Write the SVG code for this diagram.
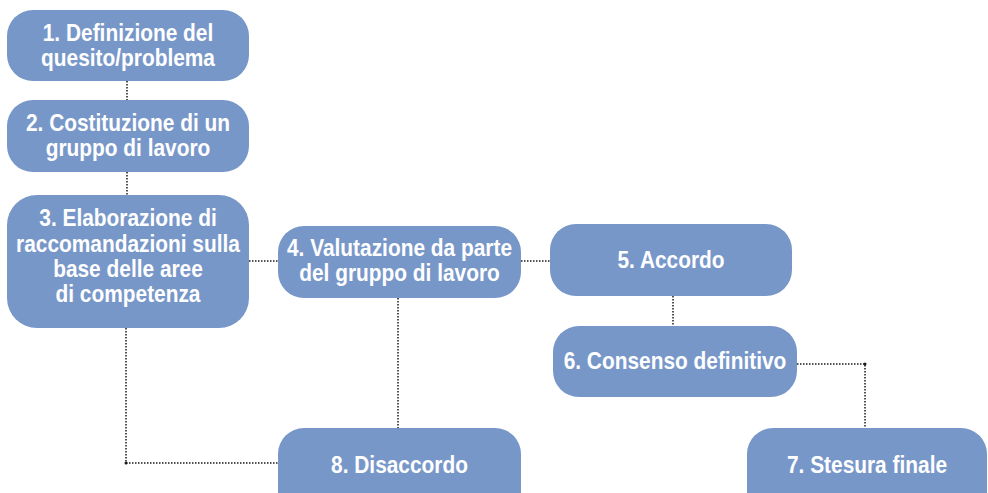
<svg xmlns="http://www.w3.org/2000/svg" width="988" height="493" viewBox="0 0 988 493">
<style>
.box{fill:#7897c9}
.t{font-family:"Liberation Sans",Arial,sans-serif;font-weight:bold;font-size:24px;fill:#ffffff;text-anchor:middle}
.c{fill:none;stroke:#1a1a1a;stroke-width:1.5;stroke-dasharray:1.5 1.5}
</style>
<rect width="988" height="493" fill="#ffffff"/>
<g id="connectors">
<line class="c" x1="127" y1="81" x2="127" y2="100"/>
<line class="c" x1="127" y1="172" x2="127" y2="195"/>
<line class="c" x1="249" y1="261" x2="278" y2="261"/>
<line class="c" x1="521" y1="261" x2="550" y2="261"/>
<line class="c" x1="673" y1="296" x2="673" y2="326"/>
<polyline class="c" points="797,364 865,364 865,428"/>
<polyline class="c" points="126,328 126,463 278,463"/>
<line class="c" x1="398" y1="298" x2="398" y2="428"/>
<circle cx="865" cy="364" r="1.5" fill="#1a1a1a"/>
<circle cx="126" cy="463" r="1.5" fill="#1a1a1a"/>
</g>
<g id="n1">
<rect class="box" x="7" y="10" width="242" height="71" rx="26"/>
<g transform="translate(128,0) scale(0.87,1)"><text class="t" x="0" y="41">1. Definizione del</text><text class="t" x="0" y="66">quesito/problema</text></g>
</g>
<g id="n2">
<rect class="box" x="7" y="100" width="242" height="72" rx="26"/>
<g transform="translate(128,0) scale(0.87,1)"><text class="t" x="0" y="131">2. Costituzione di un</text><text class="t" x="0" y="156">gruppo di lavoro</text></g>
</g>
<g id="n3">
<rect class="box" x="7" y="195" width="242" height="133" rx="30"/>
<g transform="translate(128,0) scale(0.87,1)"><text class="t" x="0" y="226">3. Elaborazione di</text><text class="t" x="0" y="252">raccomandazioni sulla</text><text class="t" x="0" y="277">base delle aree</text><text class="t" x="0" y="302">di competenza</text></g>
</g>
<g id="n4">
<rect class="box" x="278" y="226" width="243" height="72" rx="26"/>
<g transform="translate(399.5,0) scale(0.87,1)"><text class="t" x="0" y="256">4. Valutazione da parte</text><text class="t" x="0" y="281">del gruppo di lavoro</text></g>
</g>
<g id="n5">
<rect class="box" x="550" y="224" width="242" height="72" rx="26"/>
<g transform="translate(671,0) scale(0.87,1)"><text class="t" x="0" y="268">5. Accordo</text></g>
</g>
<g id="n6">
<rect class="box" x="553" y="326" width="244" height="71" rx="26"/>
<g transform="translate(675,0) scale(0.87,1)"><text class="t" x="0" y="369">6. Consenso definitivo</text></g>
</g>
<g id="n7">
<rect class="box" x="747" y="428" width="240" height="90" rx="26"/>
<g transform="translate(867,0) scale(0.87,1)"><text class="t" x="0" y="473">7. Stesura finale</text></g>
</g>
<g id="n8">
<rect class="box" x="278" y="428" width="243" height="90" rx="26"/>
<g transform="translate(399.5,0) scale(0.87,1)"><text class="t" x="0" y="473">8. Disaccordo</text></g>
</g>
</svg>
